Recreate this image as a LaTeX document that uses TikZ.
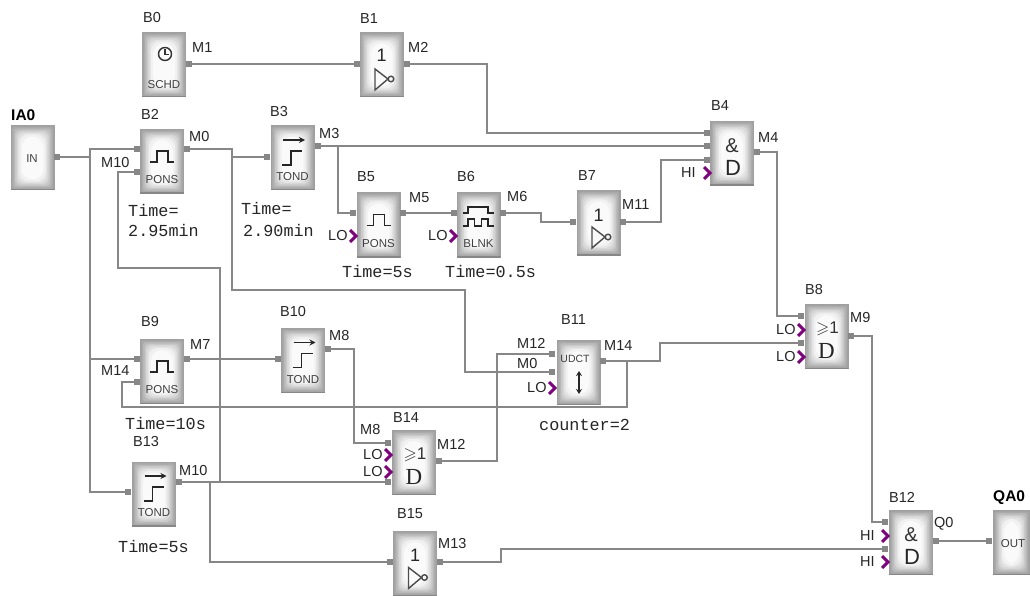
\documentclass[tikz,border=0pt]{standalone}
\usepackage{amssymb}
\usepackage{fontspec}
\setmainfont{Liberation Sans}
\newfontfamily\timefont{Liberation Mono}
\newfontfamily\gatefont{Liberation Serif}
\usetikzlibrary{arrows.meta}
\definecolor{plcwire}{RGB}{135,135,135}
\definecolor{plclevel}{RGB}{128,0,128}
\definecolor{plcedge}{RGB}{160,160,160}
\tikzset{
  plcblock/.style={rectangle,minimum width=44pt,minimum height=65pt,inner sep=0pt,fill=plcedge,
    path picture={
      \foreach \inset/\shade in {1.5/10,3/25,4.5/42,6/58,7.5/72,9/85,11/95}{
        \fill[white!\shade!plcedge,rounded corners=\inset pt]
          ([xshift=\inset pt,yshift=\inset pt]path picture bounding box.south west) rectangle
          ([xshift=-\inset pt,yshift=-\inset pt]path picture bounding box.north east);}
      \fill[plcwire] (path picture bounding box.south west) rectangle ([yshift=1.5pt]path picture bounding box.south east);}},
  port/.style={rectangle,fill=plcwire,minimum size=6pt,inner sep=0pt},
  wire/.style={plcwire,line width=2.8pt,line join=miter},
  lbl/.style={anchor=west,inner sep=0pt,font=\fontsize{14.5}{14.5}\selectfont,text=black!85},
  iolbl/.style={anchor=west,inner sep=0pt,font=\fontsize{15.5}{15.5}\selectfont\bfseries},
  timelbl/.style={anchor=west,inner sep=0pt,font=\timefont\fontsize{16.8}{16.8}\selectfont,text=black!85},
  blockcap/.style={inner sep=0pt,font=\fontsize{11.5}{11.5}\selectfont,text=black!75},
  gatelbl/.style={inner sep=0pt,font=\fontsize{20}{20}\selectfont,text=black!80},
  gateD/.style={inner sep=0pt,font=\fontsize{22}{22}\selectfont,text=black!85},
  gateone/.style={inner sep=0pt,font=\fontsize{18}{18}\selectfont,text=black!85},
  icon/.style={black!85,line width=1.4pt},
  chevron/.pic={\draw[plclevel,line width=3pt,line join=miter] (-3,-6)--(3,0)--(-3,6);},
  pulseicon/.pic={\draw[icon] (-12,0.5)--(-5,0.5)--(-5,-10.5)--(6,-10.5)--(6,0.5)--(12,0.5);},
  stepicon/.pic={\draw[icon,-{Stealth[length=6pt,width=6pt]}] (-9.5,-18)--(12.5,-18);
    \draw[icon,line width=1.6pt] (-10.5,7)--(-1.5,7)--(-1.5,-7)--(9.5,-7);},
  blankicon/.pic={\draw[icon,line width=1.2pt] (-16,-12)--(-10.5,-12)--(-10.5,-18)--(9.5,-18)--(9.5,-12)--(15.5,-12);
    \draw[icon,line width=1.2pt] (-16,1)--(-10.5,1)--(-10.5,-6)--(-4,-6)--(-4,1)--(3,1)--(3,-6)--(9.5,-6)--(9.5,1)--(15.5,1);},
  invicon/.pic={\draw[icon,black!70] (-6.5,4)--(-6.5,25)--(6.5,14)--cycle;
    \draw[icon,black!70] (9.5,14) circle (2.8);},
}
\begin{document}
\begin{tikzpicture}[x=1pt,y=-1pt]
  \useasboundingbox (0,0) rectangle (1030,596);
  \fill[white] (0,0) rectangle (1030,596);

  % blocks
  \node[plcblock] (IA0) at (32.5,158) {};
  \node[plcblock] (B0) at (164,65) {};
  \node[plcblock] (B1) at (381.5,65) {};
  \node[plcblock] (B2) at (162,161.5) {};
  \node[plcblock] (B3) at (292.5,158) {};
  \node[plcblock] (B4) at (732,153.5) {};
  \node[plcblock] (B5) at (378.5,225) {};
  \node[plcblock] (B6) at (478.5,225) {};
  \node[plcblock] (B7) at (598.5,223) {};
  \node[plcblock] (B8) at (826.5,336.5) {};
  \node[plcblock] (B9) at (162,371.5) {};
  \node[plcblock] (B10) at (303,360.5) {};
  \node[plcblock] (B11) at (578.5,372.5) {};
  \node[plcblock] (B12) at (911,542.5) {};
  \node[plcblock] (B13) at (154,494) {};
  \node[plcblock] (B14) at (414,462.5) {};
  \node[plcblock] (B15) at (415,563.5) {};
  \node[plcblock,minimum width=37pt] (QA0) at (1011.5,542.5) {};

  % block captions and symbols
  \node[blockcap] (capIA0) at (32,159) {IN};
  \node[blockcap] (capQA0) at (1013,544) {OUT};
  \draw[icon,black!80] (165,54) circle (6.5);
  \draw[icon,black!80] (165,49.5)--(165,54.5)--(169,54.5);
  \node[blockcap] (capB0) at (164,85) {SCHD};
  \node[gateone] (oneB1) at (381.5,55) {1};
  \pic at (381.5,65) {invicon};
  \pic at (162,161.5) {pulseicon};
  \node[blockcap] (capB2) at (162,180) {PONS};
  \pic at (292.5,158) {stepicon};
  \node[blockcap] (capB3) at (292.5,177) {TOND};
  \node[gatelbl] (andB4) at (732,146) {\&};
  \node[gateD] (dB4) at (733,168) {D};
  \pic at (378.5,225) {pulseicon};
  \node[blockcap] (capB5) at (378.5,243.5) {PONS};
  \pic at (478.5,225) {blankicon};
  \node[blockcap] (capB6) at (478.5,243.5) {BLNK};
  \node[gateone] (oneB7) at (598.5,215) {1};
  \pic at (598.5,223) {invicon};
  \node[gatelbl,font=\fontsize{17}{17}\selectfont] (geB8) at (827.5,329) {$\geqslant$1};
  \node[gateD,font=\gatefont\fontsize{23}{23}\selectfont] (dB8) at (826.5,351) {D};
  \pic at (162,371.5) {pulseicon};
  \node[blockcap] (capB9) at (162,390) {PONS};
  \pic at (303,360.5) {stepicon};
  \node[blockcap] (capB10) at (303,379.5) {TOND};
  \node[blockcap,font=\fontsize{10.5}{10.5}\selectfont] (capB11) at (575,359) {UDCT};
  \draw[icon,black!85,line width=1.4pt,{Stealth[length=5pt,width=6pt]}-{Stealth[length=5pt,width=6pt]}] (579,371)--(579,394);
  \node[gatelbl] (andB12) at (911,535) {\&};
  \node[gateD] (dB12) at (912,557) {D};
  \pic at (154,494) {stepicon};
  \node[blockcap] (capB13) at (154,513) {TOND};
  \node[gatelbl,font=\fontsize{17}{17}\selectfont] (geB14) at (415,455) {$\geqslant$1};
  \node[gateD,font=\gatefont\fontsize{23}{23}\selectfont] (dB14) at (414,477) {D};
  \node[gateone] (oneB15) at (415,555) {1};
  \pic at (415,563.5) {invicon};

  % ports
  \node[port] (IA0o) at (57,157) {};
  \node[port] (B0o) at (189,64) {};
  \node[port] (B1a) at (357,64) {};
  \node[port] (B1o) at (407,64) {};
  \node[port] (B2a) at (137,149) {};
  \node[port] (B2b) at (137,172) {};
  \node[port] (B2o) at (187,149) {};
  \node[port] (B3a) at (267,157) {};
  \node[port] (B3o) at (318,146) {};
  \node[port] (B4a) at (707,133) {};
  \node[port] (B4b) at (707,146) {};
  \node[port] (B4c) at (707,160) {};
  \node[port] (B4o) at (757,152) {};
  \node[port] (B5a) at (353,213) {};
  \node[port] (B5o) at (403,213) {};
  \node[port] (B6a) at (454,213) {};
  \node[port] (B6o) at (503,213) {};
  \node[port] (B7a) at (573,222) {};
  \node[port] (B7o) at (623,222) {};
  \node[port] (B8a) at (801,316) {};
  \node[port] (B8b) at (801,343) {};
  \node[port] (B8o) at (851,336) {};
  \node[port] (B9a) at (137,359) {};
  \node[port] (B9b) at (137,382) {};
  \node[port] (B9o) at (187,359) {};
  \node[port] (B10a) at (278,359) {};
  \node[port] (B10o) at (328,349) {};
  \node[port] (B11a) at (552,354) {};
  \node[port] (B11b) at (552,372) {};
  \node[port] (B11o) at (603,361) {};
  \node[port] (B12a) at (885,522) {};
  \node[port] (B12b) at (885,549) {};
  \node[port] (B12o) at (936,541) {};
  \node[port] (B13a) at (128,492) {};
  \node[port] (B13o) at (179,482) {};
  \node[port] (B14a) at (388,443) {};
  \node[port] (B14b) at (388,482) {};
  \node[port] (B14o) at (439,461) {};
  \node[port] (B15a) at (390,562) {};
  \node[port] (B15o) at (440,562) {};
  \node[port] (QA0a) at (989,541) {};

  % bends of the wires
  \coordinate (inbus) at (90,157);
  \coordinate (inbustop) at (90,149);
  \coordinate (inbusB9) at (90,359);
  \coordinate (inbusend) at (90,492);
  \coordinate (M2a) at (487,64);
  \coordinate (M2b) at (487,133);
  \coordinate (M0bus) at (232,157);
  \coordinate (M0top) at (232,149);
  \coordinate (M0mid) at (232,290);
  \coordinate (M0run) at (465,290);
  \coordinate (M0end) at (465,372);
  \coordinate (M3tap) at (338,146);
  \coordinate (M3end) at (338,213);
  \coordinate (M6a) at (541,213);
  \coordinate (M6b) at (541,222);
  \coordinate (M11a) at (661,222);
  \coordinate (M11b) at (661,160);
  \coordinate (M4a) at (777,152);
  \coordinate (M4b) at (777,316);
  \coordinate (M9a) at (872,336);
  \coordinate (M9b) at (872,522);
  \coordinate (M14tap) at (627,361);
  \coordinate (M14a) at (660,361);
  \coordinate (M14b) at (660,343);
  \coordinate (M14low) at (627,407);
  \coordinate (M14left) at (122,407);
  \coordinate (M14up) at (122,382);
  \coordinate (M8a) at (354,349);
  \coordinate (M8b) at (354,443);
  \coordinate (M10tap) at (210,482);
  \coordinate (M10join) at (220,482);
  \coordinate (M10bend) at (210,562);
  \coordinate (M10up) at (220,268);
  \coordinate (M10left) at (118,268);
  \coordinate (M10in) at (118,172);
  \coordinate (M12a) at (497,461);
  \coordinate (M12b) at (497,354);
  \coordinate (M13a) at (501,562);
  \coordinate (M13b) at (501,549);

  % wires
  \draw[wire] (IA0o) -- (inbus);
  \draw[wire] (B2a) -- (inbustop) -- (inbusend) -- (B13a);
  \draw[wire] (inbusB9) -- (B9a);
  \draw[wire] (B0o) -- (B1a);
  \draw[wire] (B1o) -- (M2a) -- (M2b) -- (B4a);
  \draw[wire] (B2o) -- (M0top) -- (M0mid) -- (M0run) -- (M0end) -- (B11b);
  \draw[wire] (M0bus) -- (B3a);
  \draw[wire] (B3o) -- (B4b);
  \draw[wire] (M3tap) -- (M3end) -- (B5a);
  \draw[wire] (B5o) -- (B6a);
  \draw[wire] (B6o) -- (M6a) -- (M6b) -- (B7a);
  \draw[wire] (B7o) -- (M11a) -- (M11b) -- (B4c);
  \draw[wire] (B4o) -- (M4a) -- (M4b) -- (B8a);
  \draw[wire] (B11o) -- (M14a) -- (M14b) -- (B8b);
  \draw[wire] (M14tap) -- (M14low) -- (M14left) -- (M14up) -- (B9b);
  \draw[wire] (B8o) -- (M9a) -- (M9b) -- (B12a);
  \draw[wire] (B9o) -- (B10a);
  \draw[wire] (B10o) -- (M8a) -- (M8b) -- (B14a);
  \draw[wire] (B13o) -- (B14b);
  \draw[wire] (M10tap) -- (M10bend) -- (B15a);
  \draw[wire] (M10join) -- (M10up) -- (M10left) -- (M10in) -- (B2b);
  \draw[wire] (B14o) -- (M12a) -- (M12b) -- (B11a);
  \draw[wire] (B15o) -- (M13a) -- (M13b) -- (B12b);
  \draw[wire] (B12o) -- (QA0a);

  % level inputs
  \pic at (707,173) {chevron};
  \pic at (353,236) {chevron};
  \pic at (453,236) {chevron};
  \pic at (801,330) {chevron};
  \pic at (801,357) {chevron};
  \pic at (388,455) {chevron};
  \pic at (388,472) {chevron};
  \pic at (552,388) {chevron};
  \pic at (885,536) {chevron};
  \pic at (885,562) {chevron};

  % labels
  \node[iolbl] (nIA0) at (11,115) {IA0};
  \node[iolbl] (nQA0) at (993,498) {QA0};
  \node[lbl] (nB0) at (143,18) {B0};
  \node[lbl] (nB1) at (360,19) {B1};
  \node[lbl] (nB2) at (141,114) {B2};
  \node[lbl] (nB3) at (270,112) {B3};
  \node[lbl] (nB4) at (711,106) {B4};
  \node[lbl] (nB5) at (357,177) {B5};
  \node[lbl] (nB6) at (457,177) {B6};
  \node[lbl] (nB7) at (578,176) {B7};
  \node[lbl] (nB8) at (805,290) {B8};
  \node[lbl] (nB9) at (141,322) {B9};
  \node[lbl] (nB10) at (280,312) {B10};
  \node[lbl] (nB11) at (561,320) {B11};
  \node[lbl] (nB12) at (889,497) {B12};
  \node[lbl] (nB13) at (133,442) {B13};
  \node[lbl] (nB14) at (393,418) {B14};
  \node[lbl] (nB15) at (397,514) {B15};
  \node[lbl] (mM1) at (192,48) {M1};
  \node[lbl] (mM2) at (408,47) {M2};
  \node[lbl] (mM0) at (189,137) {M0};
  \node[lbl] (mM10a) at (101,163) {M10};
  \node[lbl] (mM3) at (319,134) {M3};
  \node[lbl] (mM4) at (758,138) {M4};
  \node[lbl] (mM5) at (409,198) {M5};
  \node[lbl] (mM6) at (507,197) {M6};
  \node[lbl] (mM11) at (622,205) {M11};
  \node[lbl] (mM7) at (190,345) {M7};
  \node[lbl] (mM14a) at (101,371) {M14};
  \node[lbl] (mM8a) at (329,336) {M8};
  \node[lbl] (mM10b) at (179,471) {M10};
  \node[lbl] (mM8b) at (360,430) {M8};
  \node[lbl] (mM12a) at (437,444) {M12};
  \node[lbl] (mM13) at (438,544) {M13};
  \node[lbl] (mM12b) at (517,343) {M12};
  \node[lbl] (mM0b) at (517,364) {M0};
  \node[lbl] (mM14b) at (604,346) {M14};
  \node[lbl] (mM9) at (850,318) {M9};
  \node[lbl] (mQ0) at (934,524) {Q0};
  \node[lbl] (hiB4) at (681,173) {HI};
  \node[lbl] (loB5) at (328,236) {LO};
  \node[lbl] (loB6) at (428,236) {LO};
  \node[lbl] (loB8a) at (776,330) {LO};
  \node[lbl] (loB8b) at (776,357) {LO};
  \node[lbl] (loB14a) at (363,455) {LO};
  \node[lbl] (loB14b) at (363,472) {LO};
  \node[lbl] (loB11) at (527,388) {LO};
  \node[lbl] (hiB12a) at (860,536) {HI};
  \node[lbl] (hiB12b) at (860,562) {HI};
  \node[timelbl] (tB2a) at (128,210) {Time=};
  \node[timelbl] (tB2b) at (128,230) {2.95min};
  \node[timelbl] (tB3a) at (241,208) {Time=};
  \node[timelbl] (tB3b) at (243,230) {2.90min};
  \node[timelbl] (tB5) at (342,271) {Time=5s};
  \node[timelbl] (tB6) at (445,271) {Time=0.5s};
  \node[timelbl] (tB9) at (125,423) {Time=10s};
  \node[timelbl] (tB13) at (118,546) {Time=5s};
  \node[timelbl] (cB11) at (539,425) {counter=2};
\end{tikzpicture}
\end{document}
